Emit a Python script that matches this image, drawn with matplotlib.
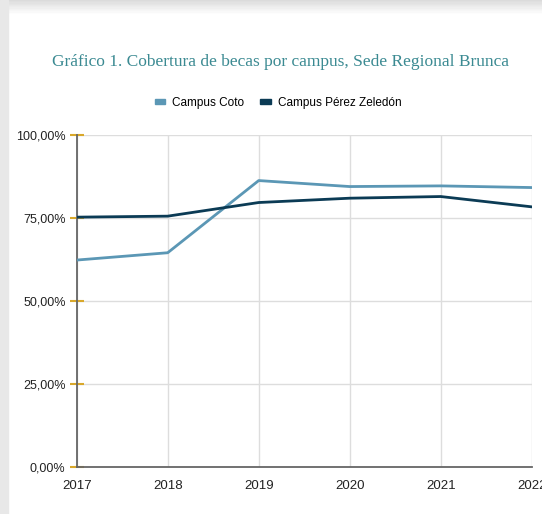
import matplotlib
matplotlib.use("Agg")
from matplotlib import pyplot as plt
from matplotlib.patches import Rectangle, Patch

years = [2017, 2018, 2019, 2020, 2021, 2022]
coto = [62.3, 64.5, 86.2, 84.4, 84.6, 84.1]
perez_zeledon = [75.2, 75.5, 79.6, 80.9, 81.4, 78.3]
y_ticks = [0, 25, 50, 75, 100]
y_labels = ["0,00%", "25,00%", "50,00%", "75,00%", "100,00%"]

color_coto = "#5b97b5"
color_pz = "#0b3b55"

plt.rcParams['font.family'] = ['Liberation Sans', 'DejaVu Sans']

fig = plt.figure(figsize=(5.42, 5.14), dpi=100)
fig.patch.set_facecolor("white")

# screenshot frame (gray strips on top and left)
for i in range(10):
    shade = 0.86 + i * 0.013
    fig.patches.append(Rectangle((0, 1 - (i + 1) * 0.0024), 1, 0.0024,
                                 transform=fig.transFigure, color=str(shade), zorder=0))
fig.patches.append(Rectangle((0, 0), 0.014, 1, transform=fig.transFigure,
                             color="#e8e8e8", zorder=0))

ax = fig.add_axes([0.1415, 0.0909, 0.8395, 0.6471])
ax.plot(years, coto, color=color_coto, lw=2.0, label="Campus Coto", zorder=3)
ax.plot(years, perez_zeledon, color=color_pz, lw=2.0, label="Campus Pérez Zeledón", zorder=3)

ax.set_xlim(2017, 2022)
ax.set_ylim(0, 100)
ax.set_xticks(years)
ax.set_xticklabels([str(y) for y in years], fontsize=9.5, color="#222222")
ax.set_yticks(y_ticks)
ax.set_yticklabels(y_labels, fontsize=9, color="#222222")
ax.grid(True, color="#dddddd", lw=1.0)
ax.set_axisbelow(True)

for side in ["top", "right"]:
    ax.spines[side].set_visible(False)
for side in ["left", "bottom"]:
    ax.spines[side].set_color("#666666")
    ax.spines[side].set_linewidth(1.3)

ax.tick_params(axis="y", direction="inout", length=10, width=1.5, color="#d9a82b", pad=3)
ax.tick_params(axis="x", length=0, pad=9)

fig.text(0.517, 0.879, "Gráfico 1. Cobertura de becas por campus, Sede Regional Brunca",
         ha="center", va="center", fontsize=12.5, color="#3b8a92",
         family=["Liberation Serif", "DejaVu Serif"])

handles = [Patch(color=color_coto, label="Campus Coto"),
           Patch(color=color_pz, label="Campus Pérez Zeledón")]
fig.legend(handles=handles, loc="center", bbox_to_anchor=(0.513, 0.8), ncol=2,
           frameon=False, fontsize=8.5, handlelength=0.9, handleheight=0.35,
           handletextpad=0.6, columnspacing=1.3)

fig.savefig("out.png", dpi=100)
